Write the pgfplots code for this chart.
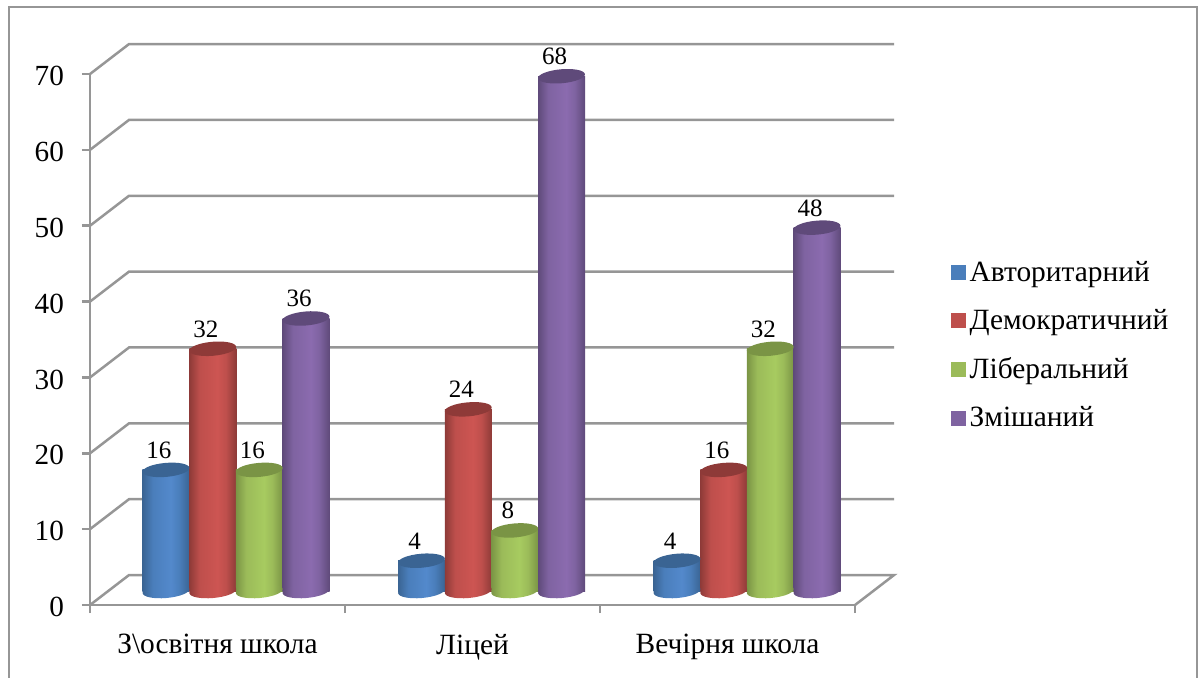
\documentclass[border=0pt]{standalone}
\usepackage{pgfplots}
\usepackage{pgfplotstable}
\usepackage{fontspec}
\usetikzlibrary{shapes.geometric}
\setmainfont{Liberation Serif}
\pgfplotsset{compat=1.18}

\definecolor{cb1}{HTML}{3A6493}\definecolor{cb2}{HTML}{4A7EBB}\definecolor{cb3}{HTML}{5389CC}
\definecolor{cr1}{HTML}{8E3A38}\definecolor{cr2}{HTML}{BE4F4C}\definecolor{cr3}{HTML}{CD5552}
\definecolor{cg1}{HTML}{7A9445}\definecolor{cg2}{HTML}{9BBB59}\definecolor{cg3}{HTML}{A7CB60}
\definecolor{cp1}{HTML}{5F4A7A}\definecolor{cp2}{HTML}{7F63A1}\definecolor{cp3}{HTML}{8B6BAF}
\definecolor{frame}{HTML}{969696}

% Horizontal colour ramps giving the bars a rounded look
\pgfdeclarehorizontalshading{cylblue}{100bp}{color(0bp)=(cb1);color(25bp)=(cb1);color(36bp)=(cb2);color(55bp)=(cb3);color(64bp)=(cb2);color(75bp)=(cb1);color(100bp)=(cb1)}
\pgfdeclarehorizontalshading{cylred}{100bp}{color(0bp)=(cr1);color(25bp)=(cr1);color(36bp)=(cr2);color(55bp)=(cr3);color(64bp)=(cr2);color(75bp)=(cr1);color(100bp)=(cr1)}
\pgfdeclarehorizontalshading{cylgreen}{100bp}{color(0bp)=(cg1);color(25bp)=(cg1);color(36bp)=(cg2);color(55bp)=(cg3);color(64bp)=(cg2);color(75bp)=(cg1);color(100bp)=(cg1)}
\pgfdeclarehorizontalshading{cylpurple}{100bp}{color(0bp)=(cp1);color(25bp)=(cp1);color(36bp)=(cp2);color(55bp)=(cp3);color(64bp)=(cp2);color(75bp)=(cp1);color(100bp)=(cp1)}

\pgfplotstableread{
idx value
0 16
1 4
2 4
}\avtoritarnyi
\pgfplotstableread{
idx value
0 32
1 24
2 16
}\demokratychnyi
\pgfplotstableread{
idx value
0 16
1 8
2 32
}\liberalnyi
\pgfplotstableread{
idx value
0 36
1 68
2 48
}\zmishanyi

% One cylinder series: rounded foot, shaded body, darker lid.
% Each body is its own plot so that the ramp spans a single bar.
\newcommand{\cylinders}[4]{%
  \addplot[draw=none, forget plot, nodes near coords={},
    nodes near coords style={ellipse, inner sep=0pt, minimum width=23.5pt,
      minimum height=7pt, anchor=center, rotate=5, shade, shading=#3}]
    table[x expr=\thisrow{idx}+#2, y expr=0] {#1};
  \addplot[ybar, bar width=23.5pt, bar shift=0pt, draw=none, forget plot, shade, shading=#3,
    skip coords between index={1}{3}]
    table[x expr=\thisrow{idx}+#2, y=value] {#1};
  \addplot[ybar, bar width=23.5pt, bar shift=0pt, draw=none, forget plot, shade, shading=#3,
    skip coords between index={0}{1}, skip coords between index={2}{3}]
    table[x expr=\thisrow{idx}+#2, y=value] {#1};
  \addplot[ybar, bar width=23.5pt, bar shift=0pt, draw=none, forget plot, shade, shading=#3,
    skip coords between index={0}{2}]
    table[x expr=\thisrow{idx}+#2, y=value] {#1};
  \addplot[draw=none, forget plot, nodes near coords={},
    nodes near coords style={ellipse, inner sep=0pt, minimum width=23.5pt,
      minimum height=7pt, anchor=center, rotate=5, fill=#4}]
    table[x expr=\thisrow{idx}+#2, y=value] {#1};
}
% Value captions above the cylinders
\newcommand{\captions}[2]{%
  \addplot[draw=none, forget plot, point meta=y, nodes near coords,
    nodes near coords style={font=\fontsize{12.5}{14}\selectfont, text=black,
      anchor=south, inner sep=0pt, yshift=5.5pt, xshift=-3.5pt}]
    table[x expr=\thisrow{idx}+#2, y=value] {#1};
}

\begin{document}
\begin{tikzpicture}[x=1pt,y=1pt]
\path[use as bounding box] (0,0) rectangle (601.5,338.5);
\draw[frame, line width=1pt] (4.5,-2) -- (4.5,335) -- (598.5,335) -- (598.5,-2);

% Walls, floor and value axis
\begin{axis}[
  at={(45pt,36pt)}, anchor=origin, scale only axis,
  width=382.5pt, height=265.5pt,
  xmin=0, xmax=3, ymin=0, ymax=70,
  clip=false,
  axis lines*=left,
  axis line style={frame, line width=1.25pt, -},
  tick style={frame, line width=1.25pt},
  tick align=outside,
  ytick={0,10,...,70},
  xtick={0.5,1.5,2.5},
  xticklabels={З\textbackslash освітня школа, Ліцей, Вечірня школа},
  minor xtick={0,1,2,3},
  major tick length=4pt, minor tick length=4pt,
  x tick style={draw=none},
  minor x tick style={draw=frame, line width=1.25pt},
  y tick label style={font=\fontsize{14.6}{16}\selectfont, xshift=-5.5pt, yshift=-1pt},
  x tick label style={font=\fontsize{14.7}{17}\selectfont, yshift=-7pt},
  /pgf/number format/assume math mode=true,
]
\addplot[frame, line width=1.25pt] coordinates {(0,0) (0.153,3.95) (3.153,3.95) (3,0)};
\addplot[frame, line width=1.25pt] coordinates {(0,10) (0.153,13.95) (3.153,13.95)};
\addplot[frame, line width=1.25pt] coordinates {(0,20) (0.153,23.95) (3.153,23.95)};
\addplot[frame, line width=1.25pt] coordinates {(0,30) (0.153,33.95) (3.153,33.95)};
\addplot[frame, line width=1.25pt] coordinates {(0,40) (0.153,43.95) (3.153,43.95)};
\addplot[frame, line width=1.25pt] coordinates {(0,50) (0.153,53.95) (3.153,53.95)};
\addplot[frame, line width=1.25pt] coordinates {(0,60) (0.153,63.95) (3.153,63.95)};
\addplot[frame, line width=1.25pt] coordinates {(0,70) (0.153,73.95) (3.153,73.95)};
\end{axis}

% Cylinders, their values and the legend
\begin{axis}[
  at={(118pt,43pt)}, anchor=origin, scale only axis,
  width=383.25pt, height=264.95pt,
  xmin=-0.5, xmax=2.5, ymin=0, ymax=70,
  clip=false, hide axis,
  /pgf/number format/assume math mode=true,
  legend style={at={(421pt,78.5pt)}, anchor=south west, draw=none, fill=none,
    font=\fontsize{14.7}{17}\selectfont, row sep=8.5pt, inner sep=0pt,
    legend cell align=left,
    /tikz/every even column/.append style={column sep=4.5pt}},
  legend image code/.code={\fill[draw=none,#1] (0pt,-3.75pt) rectangle (7.5pt,3.75pt);},
]
\cylinders{\avtoritarnyi}{-0.274}{cylblue}{cb1}
\cylinders{\demokratychnyi}{-0.091}{cylred}{cr1}
\cylinders{\liberalnyi}{0.091}{cylgreen}{cg1}
\cylinders{\zmishanyi}{0.274}{cylpurple}{cp1}
\captions{\avtoritarnyi}{-0.274}
\captions{\demokratychnyi}{-0.091}
\captions{\liberalnyi}{0.091}
\captions{\zmishanyi}{0.274}
\addlegendimage{fill=cb2,draw=none}\addlegendentry{Авторитарний}
\addlegendimage{fill=cr2,draw=none}\addlegendentry{Демократичний}
\addlegendimage{fill=cg2,draw=none}\addlegendentry{Ліберальний}
\addlegendimage{fill=cp2,draw=none}\addlegendentry{Змішаний}
\end{axis}
\end{tikzpicture}
\end{document}
